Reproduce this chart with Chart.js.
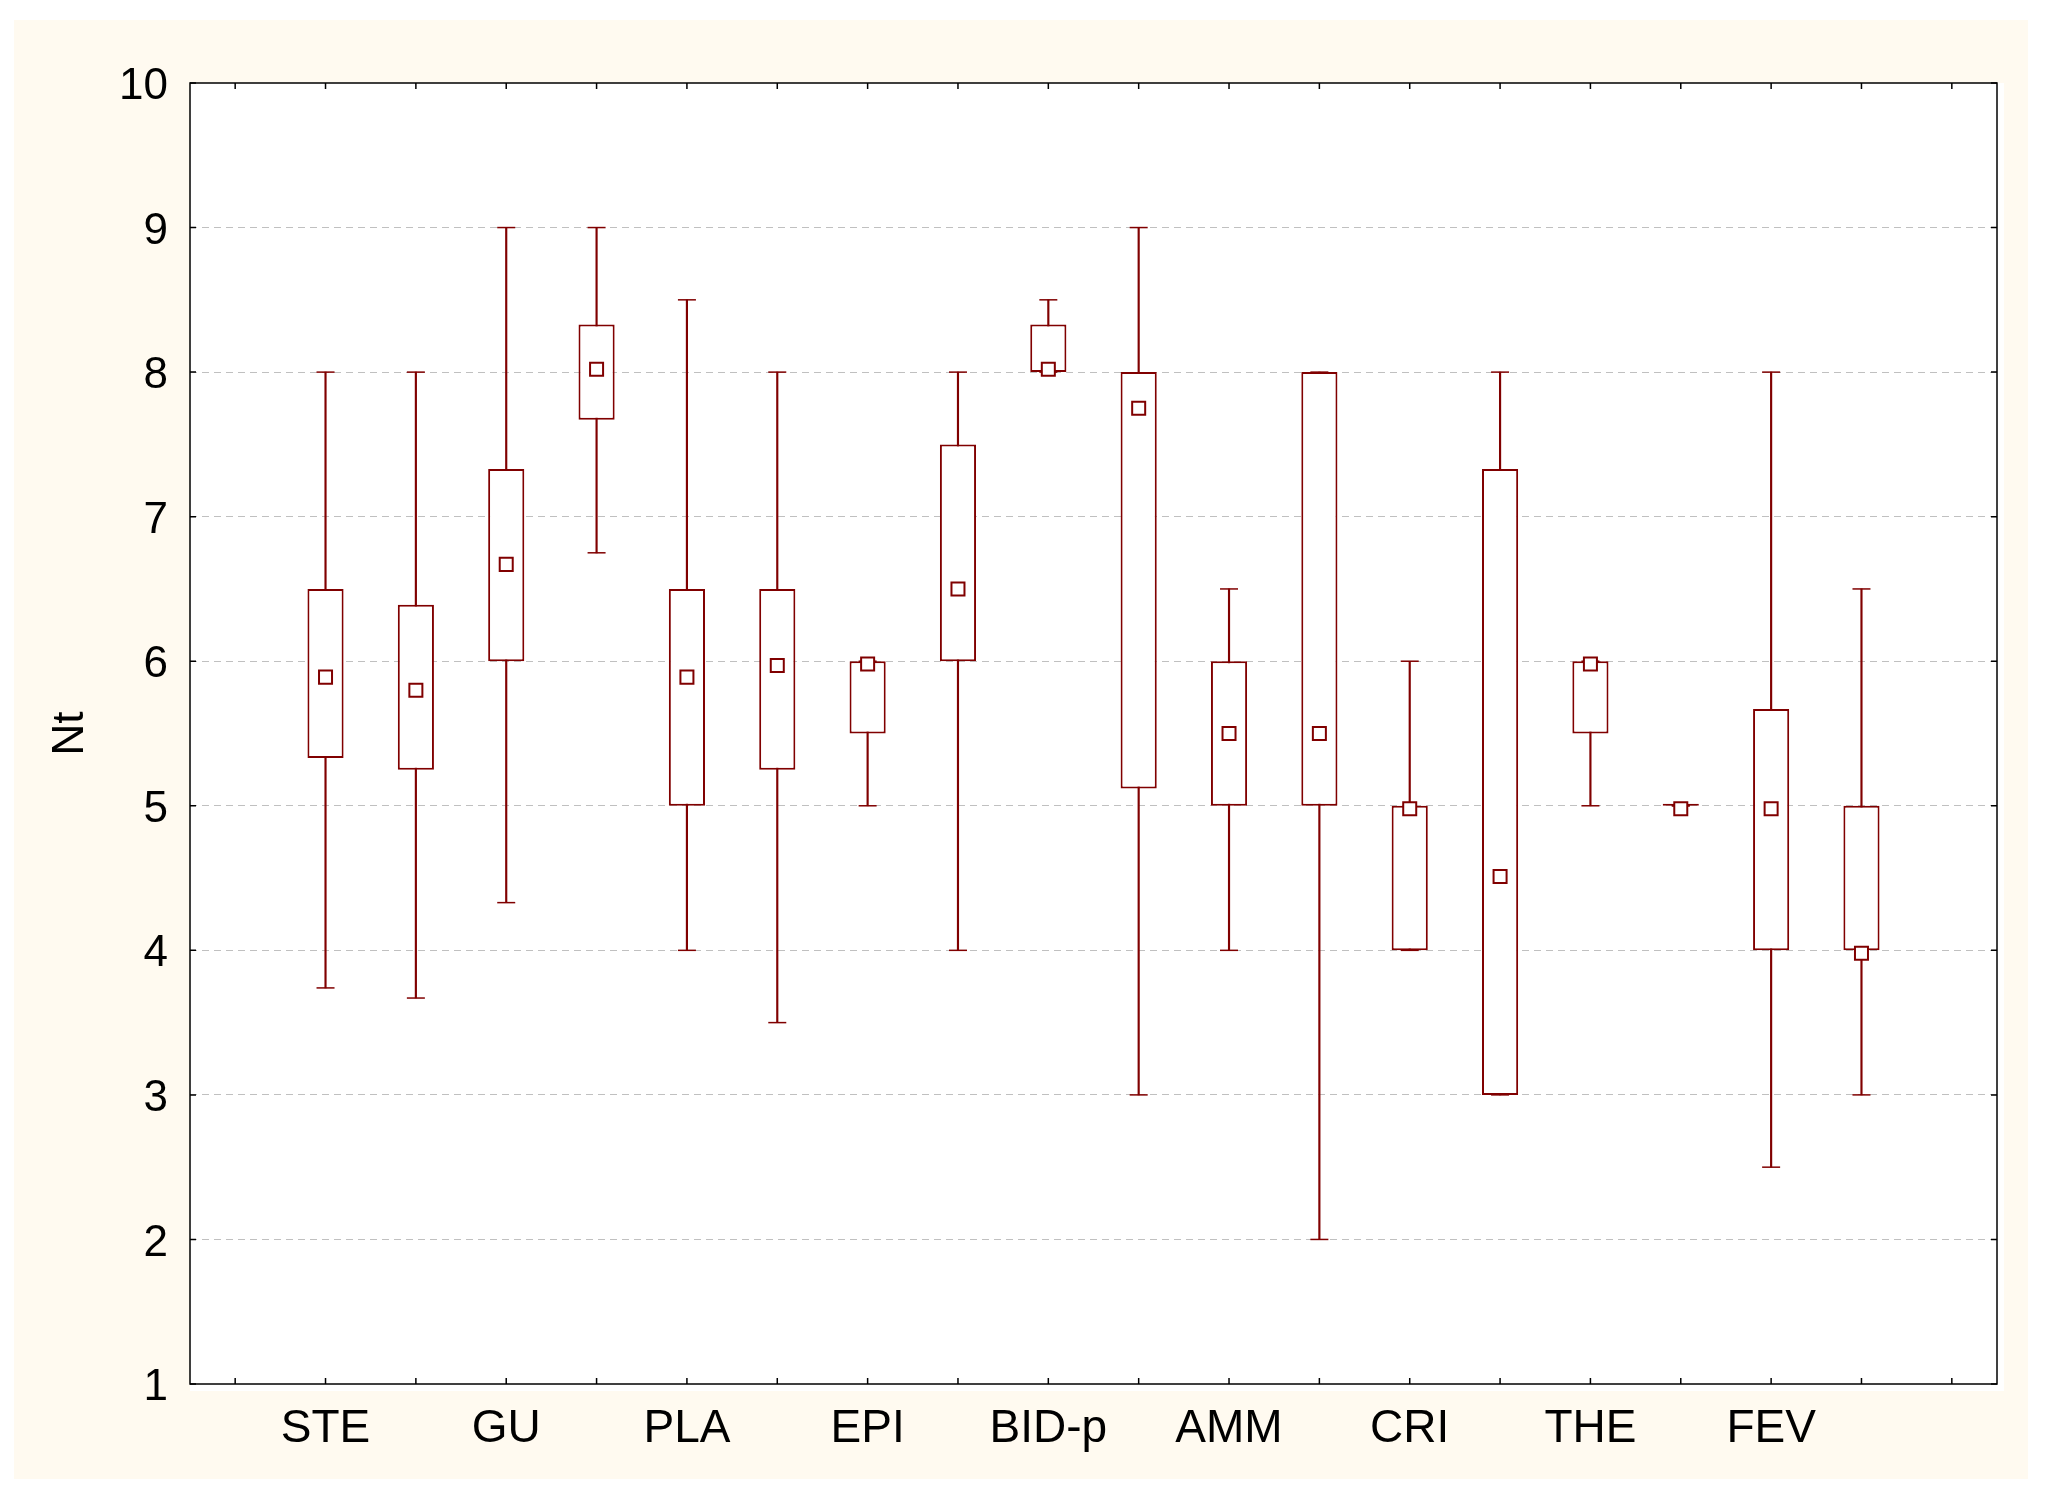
<!DOCTYPE html>
<html>
<head>
<meta charset="utf-8">
<title>Nt box plot</title>
<script src="https://cdn.jsdelivr.net/npm/chart.js@4.4.1/dist/chart.umd.min.js"></script>
<style>
  html, body { margin: 0; background: #ffffff; }
  #frame { position: absolute; left: 14px; top: 20px; width: 2014px; height: 1459px; background: #fffaf0; }
  canvas { display: block; }
</style>
</head>
<body>
<div id="frame"><canvas id="chart" width="2014" height="1459"></canvas></div>
<script>
const GROUPS = ["STE", "GU", "PLA", "EPI", "BID-p", "AMM", "CRI", "THE", "FEV"];

// two boxes per group, left to right
const MIN  = [3.74, 3.67, 4.33, 6.75, 4.0, 3.5, 5.0, 4.0, 8.0, 3.0, 4.0, 2.0, 4.0, 3.0, 5.0, 5.0, 2.5, 3.0];
const Q1   = [5.33, 5.25, 6.0, 7.67, 5.0, 5.25, 5.5, 6.0, 8.0, 5.12, 5.0, 5.0, 4.0, 3.0, 5.5, 5.0, 4.0, 4.0];
const MEAN = [5.89, 5.8, 6.67, 8.02, 5.89, 5.97, 5.98, 6.5, 8.02, 7.75, 5.5, 5.5, 4.98, 4.51, 5.98, 4.98, 4.98, 3.98];
const Q3   = [6.5, 6.39, 7.33, 8.33, 6.5, 6.5, 6.0, 7.5, 8.33, 8.0, 6.0, 8.0, 5.0, 7.33, 6.0, 5.0, 5.67, 5.0];
const MAX  = [8.0, 8.0, 9.0, 9.0, 8.5, 8.0, 6.0, 8.0, 8.5, 9.0, 6.5, 8.0, 6.0, 8.0, 6.0, 5.0, 8.0, 6.5];

const Y_TICKS = [1, 2, 3, 4, 5, 6, 7, 8, 9, 10];

const RED = "#800000";
const FONT = "'Liberation Sans', Arial, sans-serif";
const TICK = 6;

// slot 0 and the last slot stay empty; boxes sit on slots 1..18
const SLOT_COUNT = MIN.length + 2;
const slotLabels = Array.from({ length: SLOT_COUNT }, () => "");
GROUPS.forEach((name, g) => {
  slotLabels[2 * g + 1] = name;
});

const boxX = (i) => i + 1;

const plotBackground = {
  id: "plotBackground",
  beforeDraw(chart) {
    const { ctx, chartArea: a } = chart;
    ctx.save();
    ctx.fillStyle = "#ffffff";
    ctx.fillRect(a.left, a.top, a.right - a.left + 7, a.bottom - a.top + 7);
    ctx.restore();
  },
};

// closed frame with short inward ticks on all four sides
const frameTicks = {
  id: "frameTicks",
  afterDraw(chart) {
    const { ctx, chartArea: a, scales } = chart;
    ctx.save();
    ctx.strokeStyle = "#000000";
    ctx.lineWidth = 1.5;
    ctx.strokeRect(a.left, a.top, a.right - a.left, a.bottom - a.top);
    ctx.beginPath();
    for (let i = 0; i < SLOT_COUNT; i++) {
      const px = scales.x.getPixelForValue(i);
      ctx.moveTo(px, a.bottom);
      ctx.lineTo(px, a.bottom - TICK);
      ctx.moveTo(px, a.top);
      ctx.lineTo(px, a.top + TICK);
    }
    for (const v of Y_TICKS) {
      const py = scales.y.getPixelForValue(v);
      ctx.moveTo(a.left, py);
      ctx.lineTo(a.left + TICK, py);
      ctx.moveTo(a.right, py);
      ctx.lineTo(a.right - TICK, py);
    }
    ctx.stroke();
    ctx.restore();
  },
};

const whiskerData = MIN.map((v, i) => ({ x: boxX(i), y: [v, MAX[i]] }));
const boxData = Q1.map((v, i) => ({ x: boxX(i), y: [v, Q3[i]] }));
const capData = [
  ...MIN.map((v, i) => ({ x: boxX(i), y: v })),
  ...MAX.map((v, i) => ({ x: boxX(i), y: v })),
];
const meanData = MEAN.map((v, i) => ({ x: boxX(i), y: v }));

new Chart(document.getElementById("chart"), {
  type: "bar",
  data: {
    datasets: [
      {
        label: "whiskers",
        data: whiskerData,
        backgroundColor: RED,
        borderWidth: 0,
        barThickness: 1.5,
        grouped: false,
        order: 3,
      },
      {
        label: "boxes",
        data: boxData,
        backgroundColor: "#ffffff",
        borderColor: RED,
        borderWidth: 2,
        borderSkipped: false,
        minBarLength: 2,
        categoryPercentage: 1,
        barPercentage: 0.4,
        grouped: false,
        order: 2,
      },
      {
        type: "scatter",
        label: "caps",
        data: capData,
        pointStyle: "line",
        radius: 9,
        borderColor: RED,
        borderWidth: 1.5,
        order: 1,
      },
      {
        type: "scatter",
        label: "mean",
        data: meanData,
        pointStyle: "rect",
        radius: 9.2,
        borderColor: RED,
        backgroundColor: "#ffffff",
        borderWidth: 2,
        order: 0,
      },
    ],
  },
  options: {
    responsive: false,
    animation: false,
    events: [],
    layout: { padding: { top: 63, right: 31, left: 0, bottom: 0 } },
    plugins: {
      legend: { display: false },
      tooltip: { enabled: false },
    },
    scales: {
      x: {
        type: "linear",
        offset: false,
        min: -0.5,
        max: SLOT_COUNT - 0.5,
        afterBuildTicks: (scale) => {
          scale.ticks = slotLabels.map((_, i) => ({ value: i }));
        },
        afterFit: (scale) => {
          scale.height = 95;
        },
        grid: { display: false },
        border: { display: false },
        ticks: {
          autoSkip: false,
          maxRotation: 0,
          padding: 10,
          color: "#000000",
          font: { family: FONT, size: 46 },
          callback: (value) => slotLabels[value] ?? "",
        },
      },
      y: {
        min: 1,
        max: 10,
        afterBuildTicks: (scale) => {
          scale.ticks = Y_TICKS.map((v) => ({ value: v }));
        },
        afterFit: (scale) => {
          scale.width = 176;
        },
        grid: {
          drawTicks: false,
          lineWidth: 1,
          color: (ctx) =>
            ctx.tick && (ctx.tick.value === Y_TICKS[0] || ctx.tick.value === Y_TICKS[Y_TICKS.length - 1])
              ? "rgba(0,0,0,0)"
              : "#c0c0c0",
        },
        border: { display: false, dash: [7, 5] },
        ticks: {
          padding: 22,
          labelOffset: 4,
          color: "#000000",
          font: { family: FONT, size: 44 },
        },
        title: {
          display: true,
          text: "Nt",
          color: "#000000",
          font: { family: FONT, size: 44 },
          padding: { top: 30, bottom: 0 },
        },
      },
    },
  },
  plugins: [plotBackground, frameTicks],
});
</script>
</body>
</html>
